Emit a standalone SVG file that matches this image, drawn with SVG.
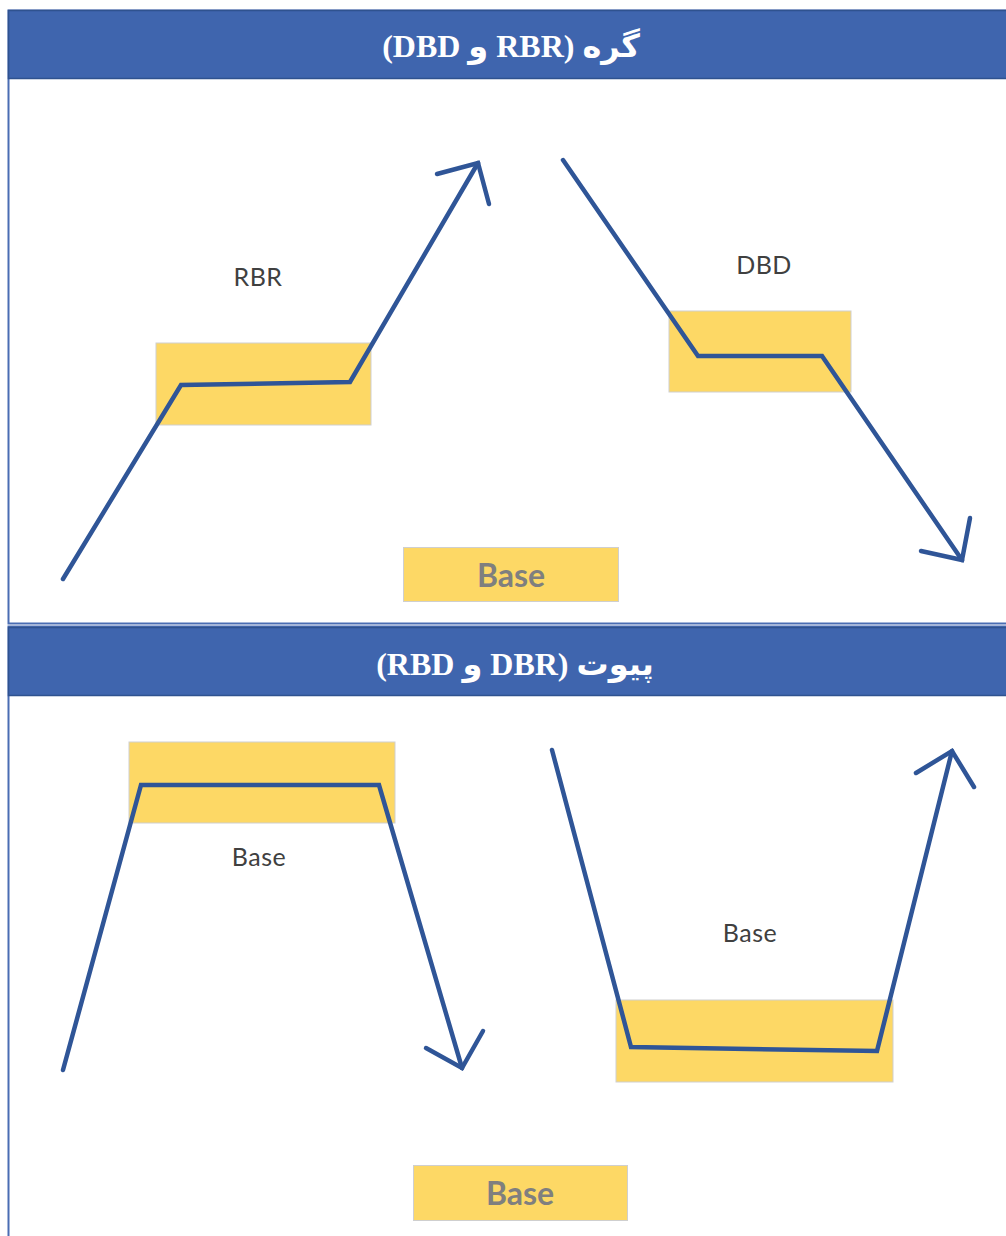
<svg xmlns="http://www.w3.org/2000/svg" width="1006" height="1236" viewBox="0 0 1006 1236">
<style>
.frame{fill:none;stroke:#4A6DB3;stroke-width:2}
.hdr{fill:#3F65AE;stroke:#2F528F;stroke-width:1.5}
.title{font-family:"Liberation Serif","DejaVu Sans",serif;font-weight:bold;font-size:32px;fill:#FFFFFF}
.zone{fill:#FDD865;stroke:#CFCFCF;stroke-width:1}
.lbl{font-family:Lato,"Open Sans",sans-serif;font-size:25px;fill:#404040;letter-spacing:0.5px}
.base{font-family:Lato,"Open Sans",sans-serif;font-weight:bold;font-size:32px;fill:#7F7F7F}
.ln{fill:none;stroke:#2F5597;stroke-width:4.5;stroke-linejoin:miter;stroke-linecap:round}
</style>
<rect width="1006" height="1236" fill="#FFFFFF"/>
<g id="section1">
  <rect class="frame" x="8.5" y="10.5" width="1010" height="613"/>
  <rect class="hdr" x="8.5" y="10.5" width="1010" height="68"/>
  <text class="title" x="511" y="57" text-anchor="middle" direction="rtl" unicode-bidi="embed">گره (RBR و DBD)</text>
</g>
<g id="section2">
  <rect class="frame" x="8.5" y="626.5" width="1010" height="640"/>
  <rect class="hdr" x="8.5" y="627.5" width="1010" height="68"/>
  <text class="title" x="515" y="675" text-anchor="middle" direction="rtl" unicode-bidi="embed">پیوت (DBR و RBD)</text>
</g>
<g id="zone-rbr"><rect class="zone" x="156" y="343" width="215" height="82"/></g>
<g id="zone-dbd"><rect class="zone" x="669" y="311" width="182" height="81"/></g>
<g id="base-box-1"><rect class="zone" x="403.5" y="547.5" width="215" height="54"/><text class="base" x="511" y="587" text-anchor="middle">Base</text></g>
<g id="zone-pivot-left"><rect class="zone" x="129" y="742" width="266" height="81"/></g>
<g id="zone-pivot-right"><rect class="zone" x="616" y="1000" width="277" height="82"/></g>
<g id="base-box-2"><rect class="zone" x="413.5" y="1165.5" width="214" height="55"/><text class="base" x="520" y="1205" text-anchor="middle">Base</text></g>
<g id="labels">
  <text class="lbl" x="258" y="286" text-anchor="middle">RBR</text>
  <text class="lbl" x="764" y="274" text-anchor="middle">DBD</text>
  <text class="lbl" x="259" y="866" text-anchor="middle">Base</text>
  <text class="lbl" x="750" y="942" text-anchor="middle">Base</text>
</g>
<g id="connectors">
  <polyline class="ln" points="63,579 181,385 350,382 478,163"/>
  <polyline class="ln" points="437,174 478,163 489,204"/>
  <polyline class="ln" points="563,160 698,356 822,356 962,560"/>
  <polyline class="ln" points="921,551 962,560 970,518"/>
  <polyline class="ln" points="63,1070 141,785 379,785 462,1068"/>
  <polyline class="ln" points="426,1048 462,1068 483,1031"/>
  <polyline class="ln" points="552,750 631,1047 877,1051 952,751"/>
  <polyline class="ln" points="916,773 952,751 974,787"/>
</g>
</svg>
